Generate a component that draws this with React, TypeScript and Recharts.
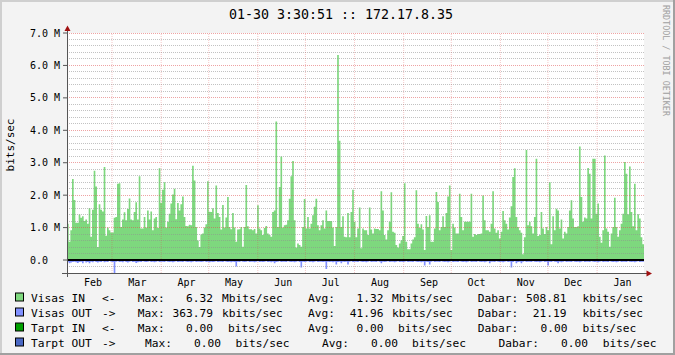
import React from "react";
import {
  Area,
  CartesianGrid,
  ComposedChart,
  ReferenceLine,
  XAxis,
  YAxis,
} from "recharts";

const FONT = '"DejaVu Sans Mono", monospace';

// daily traffic, Mbits/sec
const visasIn = [
  1.12, 0.56, 0.92, 2.5, 1.85, 1.15, 1.15, 1.4, 1.3, 1.35,
  1.2, 1.25, 1.12, 1.6, 0.72, 1.55, 2.75, 2.27, 0.4, 1.72,
  1.55, 1.5, 2.87, 0.75, 1.0, 0.92, 0.85, 0.85, 1.3, 1.33,
  2.35, 2.37, 1.02, 1.25, 1.47, 1.23, 1.57, 1.9, 1.25, 1.23,
  1.48, 1.78, 1.25, 2.58, 0.97, 0.97, 1.33, 1.0, 1.53, 1.25,
  1.5, 0.92, 1.28, 1.33, 0.99, 2.83, 1.76, 2.17, 2.4, 1.0,
  1.18, 1.43, 1.74, 2.02, 2.2, 1.26, 1.76, 1.53, 1.72, 1.96,
  1.33, 1.05, 1.04, 1.09, 1.07, 2.91, 2.45, 1.02, 0.6, 0.4,
  0.79, 0.82, 1.0, 1.1, 2.43, 1.49, 1.48, 1.6, 1.28, 2.3,
  1.45, 1.33, 0.94, 1.7, 1.0, 1.31, 1.94, 1.02, 0.95, 1.45,
  1.0, 0.56, 0.94, 0.95, 1.02, 0.41, 1.02, 2.31, 1.04, 0.95,
  0.95, 0.92, 0.96, 0.82, 1.69, 0.97, 0.92, 0.77, 0.99, 1.05,
  0.82, 0.77, 0.72, 1.48, 1.53, 4.27, 1.02, 2.25, 3.19, 1.0,
  1.07, 1.09, 1.23, 1.89, 2.58, 3.05, 1.23, 0.39, 0.51, 0.46,
  0.41, 1.02, 1.88, 0.97, 1.33, 0.97, 1.12, 1.38, 1.64, 1.89,
  1.07, 0.92, 1.07, 1.23, 0.97, 1.53, 1.2, 1.2,
  1.2, 1.0, 0.43, 1.02, 6.32, 3.68, 1.02, 1.35, 0.72, 0.7,
  1.45, 0.7, 1.48, 2.17, 1.18, 0.7, 0.97, 1.62, 0.36, 0.97,
  0.92, 0.92, 0.77, 1.62, 0.94, 0.82, 0.97, 0.96, 0.96, 0.92,
  2.12, 1.53, 0.77, 0.63, 0.92, 1.18, 2.09, 0.87, 0.84, 0.46,
  0.39, 0.51, 0.61, 0.74, 2.37, 0.56, 0.33, 0.33, 0.51, 0.63,
  0.7, 2.15, 1.12, 0.99, 1.1, 0.94, 0.31, 1.36, 1.02, 1.38,
  0.56, 0.56, 0.97, 2.1, 1.79, 0.92, 1.02, 1.35, 1.02, 1.45,
  1.96, 2.3, 0.31, 1.12, 1.0, 0.82, 0.82, 2.04, 1.33, 0.92,
  1.18, 1.18, 1.18, 1.18, 2.04, 0.72, 0.8, 0.77, 0.8, 0.8,
  0.82, 1.99, 1.23, 0.92, 0.92, 0.87, 1.12, 2.12, 0.97, 0.84,
  0.92, 0.66, 0.87, 1.51, 1.23, 1.12, 0.94, 1.31, 1.66, 2.56,
  2.83, 1.33, 1.02, 0.92, 0.84, 0.18, 0.7, 3.39, 1.07, 1.18,
  1.04, 0.82, 1.33, 3.12, 0.74, 0.77, 1.48, 0.97, 0.8, 1.02,
  0.92, 2.4, 0.49, 1.35, 0.92, 1.58, 1.53, 0.97, 1.25, 0.66,
  0.87, 0.82, 1.02, 1.53, 1.84, 1.28, 1.02, 1.02, 1.04, 3.5,
  1.94, 1.18, 1.31, 1.28, 2.84, 2.66, 1.28, 3.12, 3.12, 1.43,
  1.74, 0.72, 0.53, 0.92, 3.22, 0.97, 0.87, 0.41, 0.82, 1.02,
  1.92, 1.02, 0.72, 0.92, 1.12, 1.43, 3.02, 2.66, 1.41, 2.88,
  1.48, 1.04, 2.35, 0.92, 1.41, 1.28, 0.7, 0.49,
];

const visasOut = [
  -0.05, -0.1, -0.08, -0.06, -0.05, -0.07, -0.09, -0.06, -0.05, -0.1,
  -0.04, -0.08, -0.06, -0.1, -0.05, -0.07, -0.04, -0.06, -0.08, -0.05,
  -0.06, -0.04, -0.07, -0.05, -0.06, -0.03, -0.05, -0.06, -0.41, -0.05,
  -0.04, -0.06, -0.05, -0.07, -0.04, -0.06, -0.08, -0.05, -0.04, -0.06,
  -0.05, -0.09, -0.07, -0.05, -0.06, -0.04, -0.05, -0.06, -0.05, -0.04,
  -0.06, -0.05, -0.07, -0.05, -0.04, -0.06, -0.05, -0.05, -0.06, -0.04,
  -0.05, -0.06, -0.05, -0.07, -0.05, -0.04, -0.06, -0.05, -0.05, -0.06,
  -0.04, -0.05, -0.06, -0.05, -0.07, -0.05, -0.04, -0.06, -0.05, -0.05,
  -0.06, -0.05, -0.04, -0.06, -0.05, -0.07, -0.05, -0.06, -0.05, -0.04,
  -0.06, -0.05, -0.05, -0.06, -0.04, -0.05, -0.06, -0.05, -0.07, -0.05,
  -0.06, -0.2, -0.05, -0.06, -0.04, -0.05, -0.06, -0.05, -0.04, -0.06,
  -0.05, -0.05, -0.07, -0.05, -0.04, -0.06, -0.05, -0.06, -0.05, -0.04,
  -0.06, -0.05, -0.07, -0.05, -0.1, -0.06, -0.05, -0.04, -0.06, -0.05,
  -0.05, -0.06, -0.04, -0.05, -0.06, -0.05, -0.07, -0.05, -0.04, -0.06,
  -0.23, -0.05, -0.06, -0.05, -0.04, -0.06, -0.05, -0.07, -0.05, -0.04,
  -0.06, -0.05, -0.05, -0.06, -0.05, -0.28, -0.05, -0.06, -0.05, -0.07,
  -0.05, -0.14, -0.06, -0.05, -0.1, -0.05, -0.06, -0.05, -0.14, -0.05,
  -0.04, -0.06, -0.05, -0.05, -0.06, -0.04, -0.05, -0.06, -0.05, -0.07,
  -0.05, -0.04, -0.06, -0.05, -0.05, -0.06, -0.04, -0.05, -0.1, -0.05,
  -0.06, -0.05, -0.04, -0.06, -0.05, -0.05, -0.07, -0.05, -0.04, -0.06,
  -0.05, -0.06, -0.05, -0.04, -0.06, -0.05, -0.05, -0.06, -0.04, -0.05,
  -0.06, -0.05, -0.07, -0.05, -0.17, -0.05, -0.06, -0.14, -0.05, -0.04,
  -0.06, -0.05, -0.05, -0.06, -0.04, -0.05, -0.06, -0.05, -0.07, -0.05,
  -0.04, -0.06, -0.05, -0.05, -0.06, -0.04, -0.05, -0.06, -0.05, -0.07,
  -0.05, -0.04, -0.06, -0.05, -0.05, -0.06, -0.04, -0.05, -0.06, -0.05,
  -0.07, -0.05, -0.04, -0.1, -0.05, -0.05, -0.06, -0.04, -0.05, -0.06,
  -0.05, -0.07, -0.05, -0.04, -0.06, -0.05, -0.23, -0.06, -0.04, -0.1,
  -0.06, -0.05, -0.1, -0.05, -0.04, -0.06, -0.05, -0.05, -0.06, -0.04,
  -0.05, -0.06, -0.05, -0.07, -0.05, -0.04, -0.06, -0.05, -0.17, -0.05,
  -0.06, -0.04, -0.05, -0.06, -0.1, -0.05, -0.07, -0.05, -0.04, -0.06,
  -0.05, -0.05, -0.06, -0.04, -0.05, -0.06, -0.05, -0.07, -0.05, -0.04,
  -0.06, -0.05, -0.05, -0.06, -0.04, -0.05, -0.06, -0.05, -0.07, -0.05,
  -0.04, -0.06, -0.05, -0.05, -0.06, -0.04, -0.05, -0.06, -0.05, -0.07,
  -0.05, -0.04, -0.06, -0.05, -0.05, -0.06, -0.04, -0.05, -0.06, -0.05,
  -0.07, -0.05, -0.04, -0.06, -0.05, -0.05,
];

// days counted from Feb 1
const monthNames = ["Feb", "Mar", "Apr", "May", "Jun", "Jul", "Aug", "Sep", "Oct", "Nov", "Dec", "Jan"];
const monthStarts = [0, 28, 59, 89, 120, 150, 181, 212, 242, 273, 303, 334];
const yTicks = [0, 1, 2, 3, 4, 5, 6, 7];

const legendLabels = ["Visas IN", "Visas OUT", "Tarpt IN", "Tarpt OUT"];
const legendArrows = ["<-", "->", "<-", "->"];
const legendMax = ["6.32", "363.79", "0.00", "0.00"];
const legendAvg = ["1.32", "41.96", "0.00", "0.00"];
const legendCur = ["508.81", "21.19", "0.00", "0.00"];
const legendUnitA = ["Mbits/sec", "kbits/sec", "bits/sec", "bits/sec"];
const legendUnitB = ["kbits/sec", "kbits/sec", "bits/sec", "bits/sec"];
const legendColors = ["#7ED87E", "#8090FF", "#00A000", "#4A68C4"];

const DAY_FROM = -0.4;
const DAY_TO = 363.6;

const step = (DAY_TO - DAY_FROM) / visasIn.length;
const rows = visasIn.map((v, i) => ({
  day: DAY_FROM + i * step,
  inVal: v,
  outVal: visasOut[i],
}));
rows.push({
  day: DAY_TO,
  inVal: visasIn[visasIn.length - 1],
  outVal: visasOut[visasOut.length - 1],
});

const labelDays = monthStarts.map((d) => d + 16);
const minorY: number[] = [];
for (let k = -1; k <= 34; k++) {
  if (k % 5 !== 0) minorY.push(Math.round(k * 20) / 100);
}

// column layout of the legend (rows 1-3 share it, row 4 is shifted)
const colX = [
  { arrow: 102, max: 137.7, maxEnd: 213, unitA: 222, avg: 308, avgEnd: 383.5, unitA2: 392, cur: 477.8, curEnd: 566.5, unitB: 582.4 },
  { arrow: 102, max: 137.7, maxEnd: 213, unitA: 222, avg: 308, avgEnd: 383.5, unitA2: 392, cur: 477.8, curEnd: 566.5, unitB: 582.4 },
  { arrow: 102, max: 137.7, maxEnd: 213, unitA: 228, avg: 308, avgEnd: 383.5, unitA2: 398, cur: 477.8, curEnd: 567.5, unitB: 582.4 },
  { arrow: 102, max: 145, maxEnd: 221, unitA: 235.5, avg: 322, avgEnd: 398, unitA2: 412, cur: 498.5, curEnd: 588, unitB: 602.7 },
];
const rowY = [301.5, 316.5, 331.5, 346.5];

function YTick(props: any) {
  const { x, y, payload } = props;
  const v = payload.value as number;
  const label = v === 0 ? "0.0\u00a0\u00a0" : `${v.toFixed(1)} M`;
  return (
    <text x={x} y={y} dy={3.5} textAnchor="end" fontFamily={FONT} fontSize={10} fill="#000">
      {label}
    </text>
  );
}

export default function App() {
  const txt = { fontFamily: FONT, fontSize: 11.2, fill: "#000" } as const;
  return (
    <div style={{ position: "relative", width: 675, height: 355, background: "#F3F3F3", overflow: "hidden" }}>
      <style>{"body{margin:0}"}</style>
      <ComposedChart
        width={675}
        height={355}
        data={rows}
        margin={{ top: 33, right: 31, bottom: 0, left: 0 }}
      >
        <CartesianGrid fill="#FFFFFF" horizontal={false} vertical={false} />
        <XAxis
          dataKey="day"
          type="number"
          domain={[DAY_FROM, DAY_TO]}
          allowDataOverflow
          ticks={labelDays}
          interval={0}
          tickFormatter={(d: number) => monthNames[labelDays.indexOf(d)]}
          height={82}
          tickSize={0}
          tickMargin={6}
          axisLine={false}
          tick={{ fontFamily: FONT, fontSize: 10, fill: "#000" }}
        />
        <YAxis
          type="number"
          domain={[-0.4, 7]}
          allowDataOverflow
          ticks={yTicks}
          interval={0}
          width={67}
          tickSize={4}
          tickMargin={3}
          axisLine={false}
          tickLine={{ stroke: "#555" }}
          tick={<YTick />}
        />
        <Area
          type="stepAfter"
          dataKey="inVal"
          stroke="none"
          fill={legendColors[0]}
          fillOpacity={1}
          baseValue={0}
          dot={false}
          activeDot={false}
          isAnimationActive={false}
        />
        <Area
          type="stepAfter"
          dataKey="outVal"
          stroke="none"
          fill={legendColors[1]}
          fillOpacity={1}
          baseValue={0}
          dot={false}
          activeDot={false}
          isAnimationActive={false}
        />
        {minorY.map((v) => (
          <ReferenceLine
            key={`m${v}`}
            y={v}
            stroke="#8F8F8F"
            strokeOpacity={0.55}
            strokeDasharray="1 1"
            shapeRendering="crispEdges"
          />
        ))}
        {yTicks.slice(1).map((v) => (
          <ReferenceLine
            key={`M${v}`}
            y={v}
            stroke="#DE4848"
            strokeOpacity={0.5}
            strokeDasharray="1 1"
            shapeRendering="crispEdges"
          />
        ))}
        {monthStarts.map((d) => (
          <ReferenceLine
            key={`v${d}`}
            x={d}
            stroke="#DE4848"
            strokeOpacity={0.3}
            strokeDasharray="1 1"
          />
        ))}
        <ReferenceLine y={0} stroke="#000" strokeWidth={2} />
      </ComposedChart>
      <svg
        width={675}
        height={355}
        style={{ position: "absolute", left: 0, top: 0, pointerEvents: "none" }}
      >
        <rect x={0} y={0} width={675} height={2} fill="#CFCFCF" />
        <rect x={0} y={0} width={2} height={355} fill="#CFCFCF" />
        <rect x={673} y={0} width={2} height={355} fill="#A0A0A0" />
        <rect x={0} y={353} width={675} height={2} fill="#A0A0A0" />

        <text x={341} y={19} textAnchor="middle" fontFamily={FONT} fontSize={13.3} fill="#000">
          01-30 3:30:51 :: 172.17.8.35
        </text>
        <text
          transform="translate(663,60.5) rotate(90)"
          textAnchor="middle"
          fontFamily={FONT}
          fontSize={8.4}
          fill="#A0A0A0"
        >
          RRDTOOL / TOBI OETIKER
        </text>
        <text
          transform="translate(14,145) rotate(-90)"
          textAnchor="middle"
          fontFamily={FONT}
          fontSize={11}
          fill="#000"
        >
          bits/sec
        </text>

        {/* axes with arrows */}
        <line x1={62} y1={273.5} x2={647} y2={273.5} stroke="#555" strokeWidth={1} />
        <line x1={67.5} y1={30} x2={67.5} y2={277} stroke="#555" strokeWidth={1} />
        <polygon points="67.5,25.5 64.5,31 70.5,31" fill="#A01010" />
        <polygon points="652,273.5 646.5,270.5 646.5,276.5" fill="#A01010" />

        {legendLabels.map((lab, i) => {
          const y = rowY[i];
          const c = colX[i];
          return (
            <g key={lab}>
              <rect x={15.5} y={y - 8.5} width={8} height={8} fill={legendColors[i]} stroke="#000" strokeWidth={1} />
              <text x={31} y={y} {...txt}>{lab}</text>
              <text x={c.arrow} y={y} {...txt}>{legendArrows[i]}</text>
              <text x={c.max} y={y} {...txt}>Max:</text>
              <text x={c.maxEnd} y={y} textAnchor="end" {...txt}>{legendMax[i]}</text>
              <text x={c.unitA} y={y} {...txt}>{legendUnitA[i]}</text>
              <text x={c.avg} y={y} {...txt}>Avg:</text>
              <text x={c.avgEnd} y={y} textAnchor="end" {...txt}>{legendAvg[i]}</text>
              <text x={c.unitA2} y={y} {...txt}>{legendUnitA[i]}</text>
              <text x={c.cur} y={y} {...txt}>Dabar:</text>
              <text x={c.curEnd} y={y} textAnchor="end" {...txt}>{legendCur[i]}</text>
              <text x={c.unitB} y={y} {...txt}>{legendUnitB[i]}</text>
            </g>
          );
        })}
      </svg>
    </div>
  );
}
